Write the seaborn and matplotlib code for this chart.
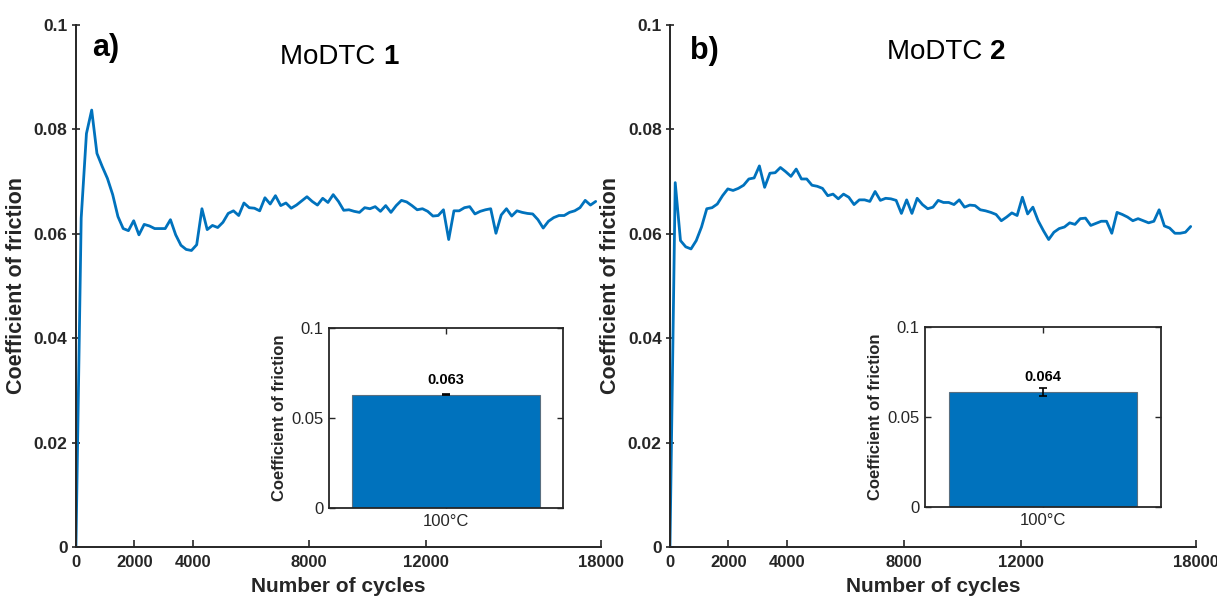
import numpy as np
import pandas as pd
import matplotlib
matplotlib.use("Agg")
import matplotlib.pyplot as plt
import seaborn as sns

# --- data ---
cycles = [
    0, 180, 360, 540, 720, 900, 1080, 1260, 1440, 1620,
    1800, 1980, 2160, 2340, 2520, 2700, 2880, 3060, 3240, 3420,
    3600, 3780, 3960, 4140, 4320, 4500, 4680, 4860, 5040, 5220,
    5400, 5580, 5760, 5940, 6120, 6300, 6480, 6660, 6840, 7020,
    7200, 7380, 7560, 7740, 7920, 8100, 8280, 8460, 8640, 8820,
    9000, 9180, 9360, 9540, 9720, 9900, 10080, 10260, 10440, 10620,
    10800, 10980, 11160, 11340, 11520, 11700, 11880, 12060, 12240, 12420,
    12600, 12780, 12960, 13140, 13320, 13500, 13680, 13860, 14040, 14220,
    14400, 14580, 14760, 14940, 15120, 15300, 15480, 15660, 15840, 16020,
    16200, 16380, 16560, 16740, 16920, 17100, 17280, 17460, 17640, 17820,
]

cof_modtc1 = [
    0.0, 0.0630, 0.0792, 0.0837, 0.0754, 0.0729, 0.0706, 0.0675, 0.0633, 0.0610,
    0.0606, 0.0625, 0.0598, 0.0618, 0.0615, 0.0610, 0.0610, 0.0610, 0.0627, 0.0598,
    0.0578, 0.0570, 0.0568, 0.0579, 0.0648, 0.0608, 0.0616, 0.0612, 0.0622, 0.0639,
    0.0644, 0.0635, 0.0659, 0.0650, 0.0649, 0.0644, 0.0669, 0.0657, 0.0673, 0.0654,
    0.0659, 0.0649, 0.0655, 0.0663, 0.0671, 0.0662, 0.0655, 0.0668, 0.0660, 0.0675,
    0.0662, 0.0645, 0.0646, 0.0643, 0.0641, 0.0650, 0.0648, 0.0652, 0.0643, 0.0654,
    0.0641, 0.0654, 0.0664, 0.0661, 0.0654, 0.0646, 0.0648, 0.0643, 0.0634, 0.0635,
    0.0646, 0.0589, 0.0644, 0.0644, 0.0650, 0.0652, 0.0638, 0.0643, 0.0646, 0.0648,
    0.0601, 0.0636, 0.0648, 0.0634, 0.0644, 0.0641, 0.0639, 0.0638, 0.0627, 0.0611,
    0.0624, 0.0631, 0.0635, 0.0635, 0.0641, 0.0644, 0.0650, 0.0664, 0.0655, 0.0662,
]

cof_modtc2 = [
    0.0, 0.0698, 0.0587, 0.0575, 0.0571, 0.0587, 0.0613, 0.0648, 0.0650, 0.0657,
    0.0673, 0.0686, 0.0683, 0.0687, 0.0693, 0.0705, 0.0707, 0.0730, 0.0689, 0.0716,
    0.0717, 0.0727, 0.0719, 0.0710, 0.0724, 0.0705, 0.0705, 0.0693, 0.0691, 0.0687,
    0.0673, 0.0676, 0.0667, 0.0676, 0.0670, 0.0656, 0.0665, 0.0665, 0.0662, 0.0681,
    0.0664, 0.0668, 0.0667, 0.0664, 0.0639, 0.0665, 0.0639, 0.0668, 0.0656, 0.0648,
    0.0651, 0.0664, 0.0660, 0.0660, 0.0656, 0.0665, 0.0651, 0.0655, 0.0654, 0.0646,
    0.0644, 0.0641, 0.0637, 0.0625, 0.0632, 0.0640, 0.0635, 0.0670, 0.0638, 0.0651,
    0.0625, 0.0606, 0.0589, 0.0603, 0.0610, 0.0613, 0.0621, 0.0618, 0.0629, 0.0630,
    0.0616, 0.0620, 0.0624, 0.0624, 0.0601, 0.0641, 0.0637, 0.0632, 0.0625, 0.0629,
    0.0625, 0.0621, 0.0624, 0.0646, 0.0615, 0.0611, 0.0601, 0.0601, 0.0603, 0.0614,
]

panel_letters = ["a)", "b)"]
compound_ids = ["1", "2"]
bar_category = ["100°C"]
bar_means = [0.063, 0.064]
bar_errors = [0.0003, 0.0023]

x_ticks = [0, 2000, 4000, 8000, 12000, 18000]
y_ticks = [0, 0.02, 0.04, 0.06, 0.08, 0.1]
y_ticklabels = ["0", "0.02", "0.04", "0.06", "0.08", "0.1"]
inset_yticks = [0, 0.05, 0.1]
inset_yticklabels = ["0", "0.05", "0.1"]

BLUE = "#0072BD"
DARK = "#262626"

sns.set_theme(style="ticks")
plt.rcParams["font.family"] = ["Liberation Sans", "DejaVu Sans"]
plt.rcParams["axes.edgecolor"] = DARK
plt.rcParams["xtick.color"] = DARK
plt.rcParams["ytick.color"] = DARK

fig = plt.figure(figsize=(12.17, 5.99), dpi=100)

main_pos = [[0.0624, 0.0868, 0.4314, 0.8715], [0.5505, 0.0868, 0.4322, 0.8715]]
inset_pos = [[0.2703, 0.1519, 0.1923, 0.3005], [0.7601, 0.1536, 0.1939, 0.3005]]
title_x = [0.389, 0.4125]
title_y = [0.939, 0.948]
letter_xy = [(0.030, 0.955), (0.038, 0.950)]

for k, cof in enumerate([cof_modtc1, cof_modtc2]):
    df = pd.DataFrame({"cycles": cycles, "cof": cof})
    ax = fig.add_axes(main_pos[k])
    sns.lineplot(data=df, x="cycles", y="cof", color=BLUE, linewidth=2.0, ax=ax)
    ax.set_xlim(0, 18000)
    ax.set_ylim(0, 0.1)
    ax.set_xticks(x_ticks)
    ax.set_xticklabels([str(t) for t in x_ticks], fontsize=12, fontweight="bold")
    ax.set_yticks(y_ticks)
    ax.set_yticklabels(y_ticklabels, fontsize=12.5, fontweight="bold")
    ax.tick_params(axis="x", direction="in", length=5, width=1.2, pad=6)
    ax.tick_params(axis="y", direction="inout", length=6, width=1.2, pad=3)
    sns.despine(ax=ax)
    for s in ["left", "bottom"]:
        ax.spines[s].set_linewidth(1.4)
    ax.set_xlabel("Number of cycles", fontsize=15, fontweight="bold", labelpad=5)
    ax.set_ylabel("Coefficient of friction", fontsize=15.5, fontweight="bold", labelpad=5)

    t = ax.text(title_x[k], title_y[k], "MoDTC ", transform=ax.transAxes,
                fontsize=20, va="center", ha="left", color="black")
    ax.annotate(compound_ids[k], xy=(1, 0), xycoords=t, va="bottom", ha="left",
                fontsize=20, fontweight="bold", color="black")
    ax.text(letter_xy[k][0], letter_xy[k][1], panel_letters[k], transform=ax.transAxes,
            fontsize=22, fontweight="bold", va="center", ha="left", color="black")

    # inset bar chart
    ins = fig.add_axes(inset_pos[k])
    bdf = pd.DataFrame({"temp": bar_category, "cof": [bar_means[k]]})
    sns.barplot(data=bdf, x="temp", y="cof", color=BLUE, saturation=1, width=0.8,
                edgecolor="#5a6f80", linewidth=0.8, errorbar=None, ax=ins)
    ins.errorbar(0, bar_means[k], yerr=bar_errors[k], fmt="none", ecolor="black",
                 elinewidth=1.2, capsize=3, capthick=1.2)
    ins.text(0, bar_means[k] + 0.0042, f"{bar_means[k]:.3f}", ha="center", va="bottom",
             fontsize=10.5, fontweight="bold", color="black")
    ins.set_xlim(-0.5, 0.5)
    ins.set_ylim(0, 0.1)
    ins.set_yticks(inset_yticks)
    ins.set_yticklabels(inset_yticklabels, fontsize=12)
    ins.set_xticks([0])
    ins.set_xticklabels(bar_category, fontsize=12)
    ins.tick_params(direction="in", length=4, width=1.0, top=True, right=True, pad=4)
    for s in ins.spines.values():
        s.set_visible(True)
        s.set_linewidth(1.3)
    ins.set_xlabel("")
    ins.set_ylabel("Coefficient of friction", fontsize=12, fontweight="bold", labelpad=3)

fig.savefig("out.png", dpi=100)
